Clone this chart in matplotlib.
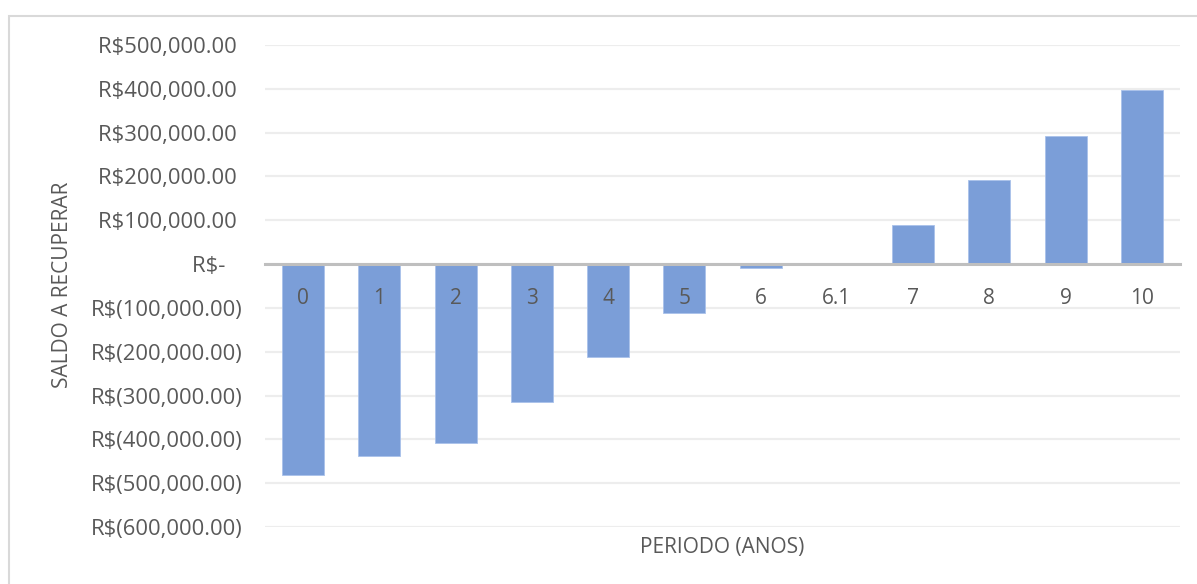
import matplotlib
matplotlib.use("Agg")
import matplotlib.pyplot as plt
from matplotlib.patches import Rectangle

categories = ["0", "1", "2", "3", "4", "5", "6", "6.1", "7", "8", "9", "10"]
saldo = [-482000, -439000, -409000, -315000, -212000, -112000, -9000, 0,
         90000, 192000, 292000, 397000]
yticks = [500000, 400000, 300000, 200000, 100000, 0, -100000, -200000,
          -300000, -400000, -500000, -600000]
ytick_labels = ["R$500,000.00 ", "R$400,000.00 ", "R$300,000.00 ", "R$200,000.00 ",
                "R$100,000.00 ", "R$-   ", "R$(100,000.00)", "R$(200,000.00)",
                "R$(300,000.00)", "R$(400,000.00)", "R$(500,000.00)", "R$(600,000.00)"]

plt.rcParams['font.family'] = ['Open Sans', 'DejaVu Sans']
txt = "#595959"

fig = plt.figure(figsize=(11.97, 5.84), dpi=100)
fig.patches.append(Rectangle((9/1197, -0.01), 1.02, 1 - 16/584 + 0.01,
                             transform=fig.transFigure, fill=False,
                             edgecolor="#D9D9D9", linewidth=1.5))
ax = fig.add_axes([265/1197, 1 - 527/584, (1180 - 265)/1197, (527 - 45)/584])

x = list(range(len(categories)))
ax.bar(x, saldo, width=0.55, color="#7B9ED8", edgecolor="#A9C1EA", linewidth=0.6, zorder=2)

ax.set_ylim(-600000, 500000)
ax.set_xlim(-0.5, len(categories) - 0.5)
ax.set_yticks(yticks)
ax.set_yticklabels(ytick_labels)
ax.yaxis.grid(True, color="#EDEDED", linewidth=1.6, zorder=0)
ax.set_axisbelow(True)
for s in ["top", "right", "left"]:
    ax.spines[s].set_visible(False)
ax.spines["bottom"].set_position(("data", 0))
ax.spines["bottom"].set_color("#BFBFBF")
ax.spines["bottom"].set_linewidth(2.2)
ax.spines["bottom"].set_zorder(3)
ax.set_xticks(x)
ax.set_xticklabels(categories)
ax.tick_params(axis="x", length=0, pad=17, labelsize=15, labelcolor=txt)
ax.tick_params(axis="y", length=0, pad=16, labelsize=15.8, labelcolor=txt)
ax.xaxis.set_zorder(5)

fig.text(722/1197, 1 - 547/584, "PERIODO (ANOS)", ha="center", va="center",
         fontsize=15, color=txt)
fig.text(62/1197, 1 - 285/584, "SALDO A RECUPERAR", ha="center", va="center",
         rotation=90, fontsize=15, color=txt)

fig.savefig("out.png", dpi=100)
